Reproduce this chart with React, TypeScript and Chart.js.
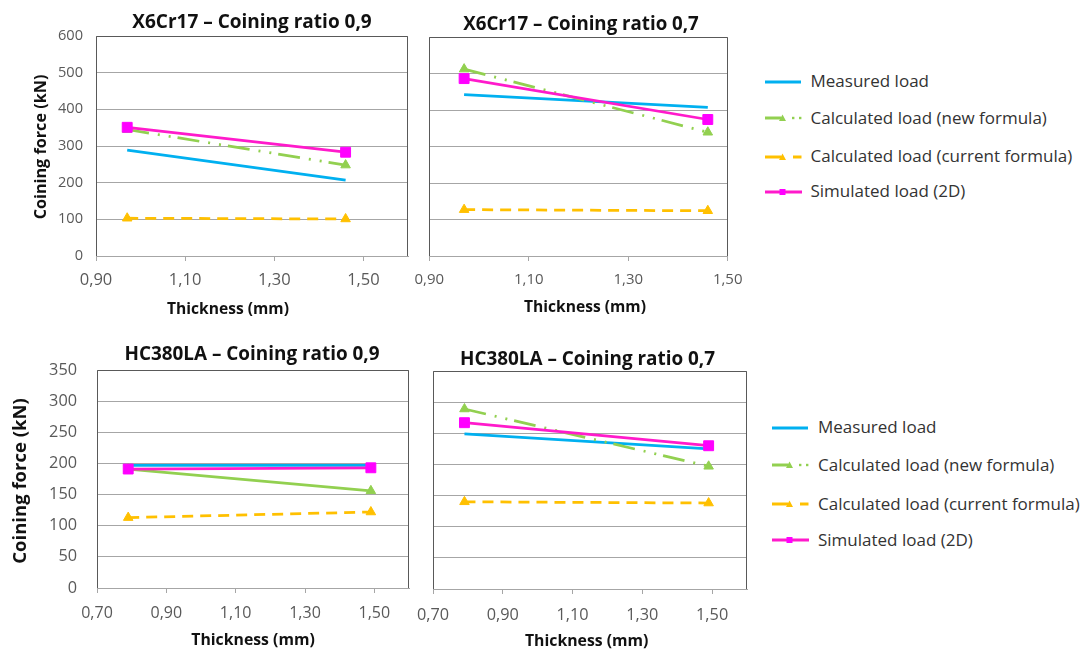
import React, { useEffect, useRef } from "react";
import { Chart, registerables } from "chart.js";

Chart.register(...registerables);

// ---------- data ----------
const seriesNames = [
  "Measured load",
  "Calculated load (new formula)",
  "Calculated load (current formula)",
  "Simulated load (2D)",
];

const thicknessX6Cr17 = [0.97, 1.46];
const thicknessHC380LA = [0.79, 1.49];

// X6Cr17 – Coining ratio 0,9
const x6cr17r09Measured = [289, 207];
const x6cr17r09NewFormula = [345, 248];
const x6cr17r09CurrentFormula = [103, 101];
const x6cr17r09Simulated = [351, 283];

// X6Cr17 – Coining ratio 0,7
const x6cr17r07Measured = [442, 407];
const x6cr17r07NewFormula = [512, 339];
const x6cr17r07CurrentFormula = [127, 124];
const x6cr17r07Simulated = [486, 374];

// HC380LA – Coining ratio 0,9
const hc380r09Measured = [197, 197];
const hc380r09NewFormula = [191, 156];
const hc380r09CurrentFormula = [113, 122];
const hc380r09Simulated = [191, 193];

// HC380LA – Coining ratio 0,7
const hc380r07Measured = [249, 225];
const hc380r07NewFormula = [289, 197];
const hc380r07CurrentFormula = [140, 138];
const hc380r07Simulated = [267, 230];

const xTicksX6Cr17 = [0.9, 1.1, 1.3, 1.5];
const xTicksHC380LA = [0.7, 0.9, 1.1, 1.3, 1.5];
const yTicksX6Cr17 = [0, 100, 200, 300, 400, 500, 600];
const yTicksHC380LA = [0, 50, 100, 150, 200, 250, 300, 350];

// ---------- styles ----------
const BLUE = "#00B0F0";
const GREEN = "#92D050";
const ORANGE = "#FFC000";
const MAGENTA = "#FF00FF";
const MAGENTA_LINE = "#FF1ACB";
const FONT = '"Open Sans", sans-serif';
const TICK_COLOR = "#595959";
const GRID_COLOR = "#A6A6A6";
const FRAME_COLOR = "#595959";
const TEXT_COLOR = "#111111";

Chart.defaults.font.family = FONT;

function toPoints(xs: number[], ys: number[]) {
  return xs.map((x, i) => ({ x, y: ys[i] }));
}

function makeDatasets(
  xs: number[],
  measured: number[],
  newF: number[],
  current: number[],
  sim: number[],
  newSolid = false
) {
  return [
    {
      label: seriesNames[0],
      data: toPoints(xs, measured),
      borderColor: BLUE,
      backgroundColor: BLUE,
      borderWidth: 2.75,
      pointRadius: 0,
      showLine: true,
      order: 4,
    },
    {
      label: seriesNames[1],
      data: toPoints(xs, newF),
      borderColor: GREEN,
      backgroundColor: GREEN,
      borderWidth: 2.75,
      borderDash: newSolid ? [] : [22, 9, 2, 9, 2, 7],
      pointStyle: "triangle",
      pointRadius: 5.5,
      pointBorderWidth: 1,
      pointBackgroundColor: GREEN,
      pointBorderColor: GREEN,
      showLine: true,
      order: 3,
    },
    {
      label: seriesNames[2],
      data: toPoints(xs, current),
      borderColor: ORANGE,
      backgroundColor: ORANGE,
      borderWidth: 2.75,
      borderDash: [11, 7],
      pointStyle: "triangle",
      pointRadius: 5.5,
      pointBorderWidth: 1,
      pointBackgroundColor: ORANGE,
      pointBorderColor: ORANGE,
      showLine: true,
      order: 2,
    },
    {
      label: seriesNames[3],
      data: toPoints(xs, sim),
      borderColor: MAGENTA_LINE,
      backgroundColor: MAGENTA,
      borderWidth: 2.75,
      pointStyle: "rect",
      pointRadius: 7,
      pointBorderWidth: 1,
      pointBackgroundColor: MAGENTA,
      pointBorderColor: MAGENTA,
      showLine: true,
      order: 1,
    },
  ];
}

type TextItem = {
  text: string;
  x: number;
  y: number;
  size: number;
  rotate?: boolean;
};

type Box = { left: number; top: number; width: number; height: number };
type Area = { left: number; top: number; right: number; bottom: number };

type PanelProps = {
  box: Box;
  area: Area;
  xMin: number;
  xMax: number;
  xTicks: number[];
  yTicks: number[];
  showYLabels: boolean;
  yFontSize: number;
  yPad: number;
  xFontSize: number;
  xPad: number;
  datasets: any[];
  texts: TextItem[];
};

const fmtComma = (v: number, d: number) => v.toFixed(d).replace(".", ",");

function Panel(p: PanelProps) {
  const ref = useRef<HTMLCanvasElement | null>(null);

  useEffect(() => {
    if (!ref.current) return;
    const padTop = p.area.top - p.box.top;
    const yWidth = p.area.left - p.box.left;
    const padRight = p.box.left + p.box.width - p.area.right;
    const xHeight = p.box.top + p.box.height - p.area.bottom;

    const framePlugin = {
      id: "frame",
      beforeDatasetsDraw(chart: any) {
        const { ctx, chartArea: a } = chart;
        const l = Math.round(a.left) + 0.5;
        const r = Math.round(a.right) - 0.5;
        const t = Math.round(a.top) + 0.5;
        const b = Math.round(a.bottom);
        ctx.save();
        ctx.strokeStyle = FRAME_COLOR;
        ctx.lineWidth = 1;
        ctx.beginPath();
        ctx.moveTo(l, b);
        ctx.lineTo(l, t);
        ctx.lineTo(r, t);
        ctx.lineTo(r, b);
        ctx.stroke();
        ctx.restore();
      },
    };

    const textPlugin = {
      id: "panelTexts",
      afterDraw(chart: any) {
        const ctx = chart.ctx;
        for (const t of p.texts) {
          ctx.save();
          ctx.font = `bold ${t.size}px ${FONT}`;
          ctx.fillStyle = TEXT_COLOR;
          ctx.textAlign = "center";
          ctx.textBaseline = "middle";
          ctx.translate(t.x, t.y);
          if (t.rotate) ctx.rotate(-Math.PI / 2);
          ctx.fillText(t.text, 0, 0);
          ctx.restore();
        }
      },
    };

    const yMin = p.yTicks[0];
    const yMax = p.yTicks[p.yTicks.length - 1];

    const chart = new Chart(ref.current, {
      type: "scatter",
      data: { datasets: p.datasets },
      options: {
        animation: false,
        responsive: true,
        maintainAspectRatio: false,
        events: [],
        layout: {
          autoPadding: false,
          padding: { top: padTop, left: 0, right: padRight, bottom: 0 },
        },
        plugins: {
          legend: { display: false },
          tooltip: { enabled: false },
          title: { display: false },
        },
        elements: { line: { tension: 0 } },
        scales: {
          x: {
            type: "linear",
            min: p.xMin,
            max: p.xMax,
            afterBuildTicks: (scale: any) => {
              scale.ticks = p.xTicks.map((v) => ({ value: v }));
            },
            afterFit: (scale: any) => {
              scale.height = xHeight;
            },
            ticks: {
              color: TICK_COLOR,
              font: { size: p.xFontSize },
              padding: p.xPad,
              maxRotation: 0,
              autoSkip: false,
              callback: (v: any) => fmtComma(Number(v), 2),
            },
            grid: {
              drawOnChartArea: false,
              drawTicks: true,
              tickLength: 5,
              color: GRID_COLOR,
              lineWidth: 1,
            },
            border: { display: true, color: GRID_COLOR, width: 1 },
          },
          y: {
            type: "linear",
            min: yMin,
            max: yMax,
            afterBuildTicks: (scale: any) => {
              scale.ticks = p.yTicks.map((v) => ({ value: v }));
            },
            afterFit: (scale: any) => {
              scale.width = yWidth;
            },
            ticks: {
              display: p.showYLabels,
              color: TICK_COLOR,
              font: { size: p.yFontSize },
              padding: p.yPad,
              autoSkip: false,
              callback: (v: any) => String(v),
            },
            grid: {
              drawTicks: false,
              color: GRID_COLOR,
              lineWidth: 1,
            },
            border: { display: false },
          },
        },
      },
      plugins: [framePlugin, textPlugin],
    } as any);

    return () => chart.destroy();
  }, []);

  return (
    <div
      style={{
        position: "absolute",
        left: p.box.left,
        top: p.box.top,
        width: p.box.width,
        height: p.box.height,
      }}
    >
      <canvas ref={ref} />
    </div>
  );
}

type LegendProps = {
  lineLeft: number;
  textLeft: number;
  rows: number[];
};

function Sample({ idx }: { idx: number }) {
  const h = 14;
  const c = h / 2;
  if (idx === 0) {
    return (
      <svg width={38} height={h}>
        <line x1={0} y1={c} x2={36} y2={c} stroke={BLUE} strokeWidth={3} />
      </svg>
    );
  }
  if (idx === 1 || idx === 2) {
    const col = idx === 1 ? GREEN : ORANGE;
    const tx = 17.5;
    return (
      <svg width={38} height={h}>
        <line x1={0} y1={c} x2={16} y2={c} stroke={col} strokeWidth={3} />
        <polygon
          points={`${tx - 3.5},${c + 3} ${tx + 3.5},${c + 3} ${tx},${c - 3.5}`}
          fill={col}
        />
        {idx === 1 ? (
          <>
            <rect x={27} y={c - 1.2} width={2.4} height={2.4} fill={col} />
            <rect x={34} y={c - 1.2} width={2.4} height={2.4} fill={col} />
          </>
        ) : (
          <line x1={28} y1={c} x2={36.5} y2={c} stroke={col} strokeWidth={3} />
        )}
      </svg>
    );
  }
  return (
    <svg width={38} height={h}>
      <line x1={0} y1={c} x2={37} y2={c} stroke={MAGENTA_LINE} strokeWidth={3} />
      <rect x={14.5} y={c - 3} width={6} height={6} fill={MAGENTA} />
    </svg>
  );
}

function Legend({ lineLeft, textLeft, rows }: LegendProps) {
  return (
    <>
      {seriesNames.map((name, i) => (
        <React.Fragment key={name}>
          <div
            style={{
              position: "absolute",
              left: lineLeft,
              top: rows[i] - 7,
              width: 38,
              height: 14,
              lineHeight: 0,
            }}
          >
            <Sample idx={i} />
          </div>
          <div
            style={{
              position: "absolute",
              left: textLeft,
              top: rows[i] - 10.5,
              height: 20,
              lineHeight: "20px",
              fontSize: 17,
              fontFamily: FONT,
              color: "#333333",
              whiteSpace: "nowrap",
            }}
          >
            {name}
          </div>
        </React.Fragment>
      ))}
    </>
  );
}

export default function App() {
  return (
    <div
      style={{
        position: "absolute",
        left: 0,
        top: 0,
        width: 1089,
        height: 653,
        background: "#ffffff",
        overflow: "hidden",
      }}
    >
      <Panel
        box={{ left: 0, top: 0, width: 412, height: 330 }}
        area={{ left: 96, top: 36, right: 408, bottom: 256 }}
        xMin={0.9}
        xMax={1.6}
        xTicks={xTicksX6Cr17}
        yTicks={yTicksX6Cr17}
        showYLabels={true}
        yFontSize={14.6}
        yPad={13}
        xFontSize={16.5}
        xPad={9}
        datasets={makeDatasets(
          thicknessX6Cr17,
          x6cr17r09Measured,
          x6cr17r09NewFormula,
          x6cr17r09CurrentFormula,
          x6cr17r09Simulated
        )}
        texts={[
          { text: "X6Cr17 – Coining ratio 0,9", x: 252, y: 22.7, size: 19 },
          { text: "Coining force (kN)", x: 41, y: 147, size: 16.2, rotate: true },
          { text: "Thickness (mm)", x: 228, y: 309.2, size: 15.6 },
        ]}
      />
      <Panel
        box={{ left: 405, top: 0, width: 347, height: 330 }}
        area={{ left: 425, top: 37, right: 745, bottom: 256 }}
        xMin={0.9}
        xMax={1.5}
        xTicks={xTicksX6Cr17}
        yTicks={yTicksX6Cr17}
        showYLabels={false}
        yFontSize={14.6}
        yPad={13}
        xFontSize={15}
        xPad={9.5}
        datasets={makeDatasets(
          thicknessX6Cr17,
          x6cr17r07Measured,
          x6cr17r07NewFormula,
          x6cr17r07CurrentFormula,
          x6cr17r07Simulated
        )}
        texts={[
          { text: "X6Cr17 – Coining ratio 0,7", x: 176, y: 25, size: 18.7 },
          { text: "Thickness (mm)", x: 180, y: 307.6, size: 15.6 },
        ]}
      />
      <Panel
        box={{ left: 0, top: 330, width: 412, height: 323 }}
        area={{ left: 97, top: 370, right: 409, bottom: 588 }}
        xMin={0.7}
        xMax={1.6}
        xTicks={xTicksHC380LA}
        yTicks={yTicksHC380LA}
        showYLabels={true}
        yFontSize={16.3}
        yPad={20}
        xFontSize={16}
        xPad={11}
        datasets={makeDatasets(
          thicknessHC380LA,
          hc380r09Measured,
          hc380r09NewFormula,
          hc380r09CurrentFormula,
          hc380r09Simulated,
          true
        )}
        texts={[
          { text: "HC380LA – Coining ratio 0,9", x: 252, y: 25, size: 18.9 },
          { text: "Coining force (kN)", x: 21, y: 151, size: 18.5, rotate: true },
          { text: "Thickness (mm)", x: 253, y: 310, size: 15.8 },
        ]}
      />
      <Panel
        box={{ left: 405, top: 330, width: 347, height: 323 }}
        area={{ left: 426, top: 371, right: 747, bottom: 589 }}
        xMin={0.7}
        xMax={1.6}
        xTicks={xTicksHC380LA}
        yTicks={yTicksHC380LA}
        showYLabels={false}
        yFontSize={16.3}
        yPad={20}
        xFontSize={16.3}
        xPad={12}
        datasets={makeDatasets(
          thicknessHC380LA,
          hc380r07Measured,
          hc380r07NewFormula,
          hc380r07CurrentFormula,
          hc380r07Simulated
        )}
        texts={[
          { text: "HC380LA – Coining ratio 0,7", x: 182.5, y: 30, size: 18.9 },
          { text: "Thickness (mm)", x: 181.7, y: 311.5, size: 15.8 },
        ]}
      />
      <Legend lineLeft={765} textLeft={810.5} rows={[81.5, 118.3, 156.7, 191.7]} />
      <Legend lineLeft={772} textLeft={818} rows={[427.7, 465, 504, 540]} />
    </div>
  );
}
